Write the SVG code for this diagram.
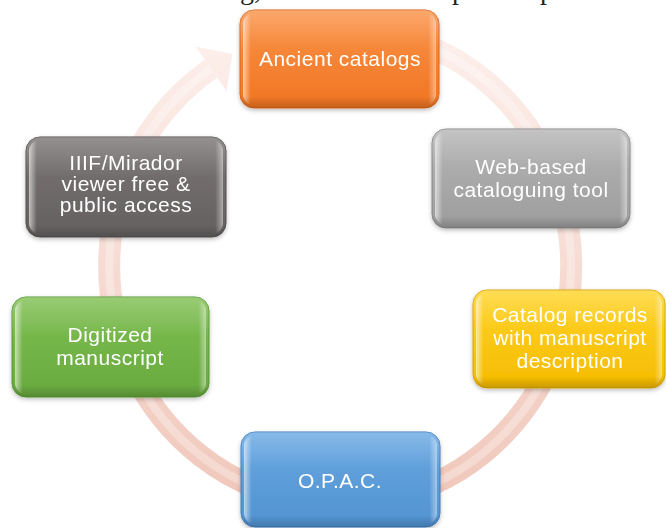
<svg xmlns="http://www.w3.org/2000/svg" width="666" height="528" viewBox="0 0 666 528">
<defs>
<style>
.lbl{font-family:"Liberation Sans",Arial,sans-serif;font-size:21px;fill:#ffffff;text-anchor:middle;letter-spacing:0.5px}
.top{font-family:"Liberation Serif","Times New Roman",serif;font-size:28px;fill:#222}
.bev{fill:url(#bevel)}
.shade{fill:url(#shade)}
</style>
<linearGradient id="ring" gradientUnits="userSpaceOnUse" x1="0" y1="28" x2="0" y2="505">
<stop offset="0" stop-color="#fdf0ec"/><stop offset="1" stop-color="#f0c7ba"/>
</linearGradient>
<linearGradient id="bevel" x1="0" y1="0" x2="1" y2="0">
<stop offset="0" stop-color="#fff" stop-opacity="0.6"/><stop offset="0.04" stop-color="#fff" stop-opacity="0"/>
<stop offset="0.96" stop-color="#fff" stop-opacity="0"/><stop offset="1" stop-color="#fff" stop-opacity="0.45"/>
</linearGradient>
<linearGradient id="shade" x1="0" y1="0" x2="0" y2="1">
<stop offset="0" stop-color="#fff" stop-opacity="0.2"/><stop offset="0.4" stop-color="#fff" stop-opacity="0"/>
<stop offset="0.88" stop-color="#000" stop-opacity="0"/><stop offset="1" stop-color="#000" stop-opacity="0.18"/>
</linearGradient>
<linearGradient id="gOrange" x1="0" y1="0" x2="0" y2="1"><stop offset="0" stop-color="#fa9248"/><stop offset="1" stop-color="#f07522"/></linearGradient>
<linearGradient id="gLGray" x1="0" y1="0" x2="0" y2="1"><stop offset="0" stop-color="#b5b5b5"/><stop offset="1" stop-color="#9d9d9d"/></linearGradient>
<linearGradient id="gGold" x1="0" y1="0" x2="0" y2="1"><stop offset="0" stop-color="#ffd42a"/><stop offset="1" stop-color="#f5bb00"/></linearGradient>
<linearGradient id="gBlue" x1="0" y1="0" x2="0" y2="1"><stop offset="0" stop-color="#68a8e2"/><stop offset="1" stop-color="#5192d0"/></linearGradient>
<linearGradient id="gGreen" x1="0" y1="0" x2="0" y2="1"><stop offset="0" stop-color="#7fbf52"/><stop offset="1" stop-color="#68a93e"/></linearGradient>
<linearGradient id="gDGray" x1="0" y1="0" x2="0" y2="1"><stop offset="0" stop-color="#7a7575"/><stop offset="1" stop-color="#646060"/></linearGradient>
<filter id="sh" x="-10%" y="-10%" width="120%" height="130%">
<feDropShadow dx="0" dy="2" stdDeviation="2" flood-color="#000" flood-opacity="0.25"/>
</filter>
</defs>
<rect width="666" height="528" fill="#ffffff"/>
<text class="top" x="240" y="-1">g,</text>
<text class="top" x="452" y="-1">p</text>
<text class="top" x="540" y="-1">p</text>
<g id="connectors">
<path d="M 340 28 A 231 238 0 1 1 211 68.7" fill="none" stroke="url(#ring)" stroke-width="22"/>
<path d="M 340 28 A 231 238 0 1 1 211 68.7" fill="none" stroke="#ffffff" stroke-opacity="0.3" stroke-width="8"/>
<polygon points="195.6,46.5 232.4,53.9 226.4,90.9" fill="url(#ring)"/>
</g>
<g id="n-ancient" filter="url(#sh)">
<rect x="240" y="10" width="199" height="98" rx="14" fill="url(#gOrange)" stroke="#d9661c"/>
<rect x="243" y="13" width="193" height="92" rx="11" class="bev"/>
<rect x="240" y="10" width="199" height="98" rx="14" class="shade"/>
<text class="lbl" x="340" y="66">Ancient catalogs</text>
</g>
<g id="n-web" filter="url(#sh)">
<rect x="432" y="129" width="198" height="99" rx="14" fill="url(#gLGray)" stroke="#888"/>
<rect x="435" y="132" width="192" height="93" rx="11" class="bev"/>
<rect x="432" y="129" width="198" height="99" rx="14" class="shade"/>
<text class="lbl" x="531" y="174">Web-based</text>
<text class="lbl" x="531" y="197">cataloguing tool</text>
</g>
<g id="n-records" filter="url(#sh)">
<rect x="473" y="290" width="192" height="98" rx="14" fill="url(#gGold)" stroke="#d9a400"/>
<rect x="476" y="293" width="186" height="92" rx="11" class="bev"/>
<rect x="473" y="290" width="192" height="98" rx="14" class="shade"/>
<text class="lbl" x="570" y="322">Catalog records</text>
<text class="lbl" x="570" y="345">with manuscript</text>
<text class="lbl" x="570" y="368">description</text>
</g>
<g id="n-opac" filter="url(#sh)">
<rect x="241" y="432" width="199" height="95" rx="14" fill="url(#gBlue)" stroke="#3f7fbf"/>
<rect x="244" y="435" width="193" height="89" rx="11" class="bev"/>
<rect x="241" y="432" width="199" height="95" rx="14" class="shade"/>
<text class="lbl" x="340" y="488">O.P.A.C.</text>
</g>
<g id="n-digitized" filter="url(#sh)">
<rect x="12" y="297" width="197" height="100" rx="14" fill="url(#gGreen)" stroke="#579a30"/>
<rect x="15" y="300" width="191" height="94" rx="11" class="bev"/>
<rect x="12" y="297" width="197" height="100" rx="14" class="shade"/>
<text class="lbl" x="110" y="342">Digitized</text>
<text class="lbl" x="110" y="365">manuscript</text>
</g>
<g id="n-iiif" filter="url(#sh)">
<rect x="26" y="137" width="200" height="100" rx="14" fill="url(#gDGray)" stroke="#555050"/>
<rect x="29" y="140" width="194" height="94" rx="11" class="bev"/>
<rect x="26" y="137" width="200" height="100" rx="14" class="shade"/>
<text class="lbl" x="126" y="170">IIIF/Mirador</text>
<text class="lbl" x="126" y="191">viewer  free &amp;</text>
<text class="lbl" x="126" y="212">public access</text>
</g>
</svg>
